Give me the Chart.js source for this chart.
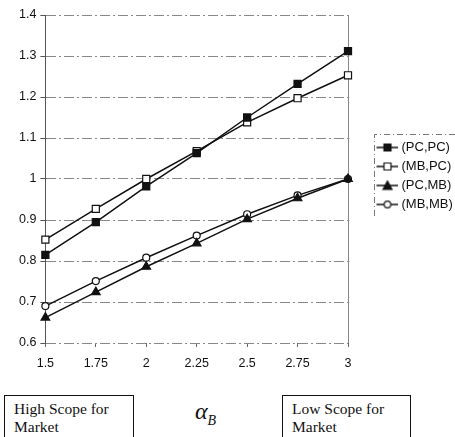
<!DOCTYPE html>
<html>
<head>
<meta charset="utf-8">
<script src="https://cdn.jsdelivr.net/npm/chart.js@4/dist/chart.umd.min.js"></script>
<style>
  html, body { margin: 0; padding: 0; background: #fff; overflow: hidden; }
  #wrap { position: relative; width: 455px; height: 437px; }
  #box { position: absolute; left: 0; top: 0; width: 455px; height: 388px; }
  .note { position: absolute; top: 395px; height: 60px; border: 1px solid #111;
          font-family: "Liberation Serif", "Times New Roman", serif; font-size: 15.5px;
          line-height: 18px; padding: 4px 0 0 9px; box-sizing: border-box; color: #111; }
  #alpha { position: absolute; left: 195px; top: 398px; font-family: "Liberation Serif", serif;
           font-style: italic; font-size: 24px; color: #111; }
  #alpha sub { font-size: 14px; }
</style>
</head>
<body>
<div id="wrap">
  <div id="box"><canvas id="chart"></canvas></div>
  <div class="note" style="left:4px; width:130px;">High Scope for<br>Market</div>
  <div id="alpha">α<sub>B</sub></div>
  <div class="note" style="left:282px; width:129px;">Low Scope for<br>Market</div>
</div>
<script>
const xLabels = ['1.5', '1.75', '2', '2.25', '2.5', '2.75', '3'];
const seriesNames = ['(PC,PC)', '(MB,PC)', '(PC,MB)', '(MB,MB)'];
const pcpc = [0.815, 0.895, 0.982, 1.063, 1.15, 1.232, 1.312];
const mbpc = [0.852, 0.927, 1.0, 1.068, 1.138, 1.197, 1.253];
const pcmb = [0.662, 0.724, 0.786, 0.843, 0.902, 0.953, 1.0];
const mbmb = [0.69, 0.751, 0.808, 0.862, 0.914, 0.96, 1.0];

// marker look per series: [pointStyle, filled, radius]
const markers = [['rect', true, 5], ['rect', false, 5], ['triangle', true, 5], ['circle', false, 3.5]];

// line+marker picture for the legend (transparent margin on the left)
const BOX_W = 41;
const ICON_W = 46;
function legendIcon(m) {
    const c = document.createElement('canvas');
    c.width = ICON_W; c.height = 12;
    const g = c.getContext('2d');
    const x0 = 25, x1 = ICON_W, cx = 36;
    g.strokeStyle = '#111'; g.lineWidth = 1.5;
    g.beginPath(); g.moveTo(x0, 6); g.lineTo(x1, 6); g.stroke();
    g.fillStyle = m[1] ? '#111' : '#fff';
    g.lineWidth = 1.2;
    g.beginPath();
    if (m[0] === 'rect') {
        g.rect(cx - 3.5, 6 - 3.5, 7, 7);
    } else if (m[0] === 'triangle') {
        g.moveTo(cx, 1.5); g.lineTo(cx + 4.5, 10); g.lineTo(cx - 4.5, 10); g.closePath();
    } else {
        g.arc(cx, 6, 3.3, 0, Math.PI * 2);
    }
    g.fill(); g.stroke();
    return c;
}

// dashed frame around the legend entries
const legendBorder = {
    id: 'legendBorder',
    afterDraw(chart) {
        const boxes = chart.legend.legendHitBoxes;
        if (!boxes || !boxes.length) return;
        const left = boxes[0].left + 20;
        const top = boxes[0].top - 7;
        const bottom = boxes[boxes.length - 1].top + boxes[boxes.length - 1].height + 8;
        const ctx = chart.ctx;
        ctx.save();
        ctx.strokeStyle = '#777';
        ctx.lineWidth = 1;
        ctx.setLineDash([6, 3, 1, 3]);
        ctx.beginPath();
        ctx.moveTo(chart.width, top + 0.5);
        ctx.lineTo(left + 0.5, top + 0.5);
        ctx.lineTo(left + 0.5, bottom);
        ctx.stroke();
        ctx.restore();
    }
};

const allData = [pcpc, mbpc, pcmb, mbmb];
const datasets = allData.map((d, i) => ({
    label: seriesNames[i],
    data: d,
    borderColor: '#111',
    borderWidth: 1.5,
    pointStyle: markers[i][0],
    pointRadius: markers[i][2],
    pointBackgroundColor: markers[i][1] ? '#111' : '#fff',
    pointBorderColor: '#111',
    pointBorderWidth: 1.2,
    tension: 0
}));

const ctx = document.getElementById('chart').getContext('2d');
new Chart(ctx, {
    type: 'line',
    data: { labels: xLabels, datasets: datasets },
    options: {
        responsive: true,
        maintainAspectRatio: false,
        animation: false,
        layout: { padding: { left: 15, right: -4, top: 15, bottom: 8 } },
        plugins: {
            tooltip: { enabled: false },
            legend: {
                position: 'right',
                align: 'start',
                title: {
                    display: true,
                    text: ' ',
                    font: { size: 10 },
                    padding: { top: 108, bottom: 0 }
                },
                labels: {
                    usePointStyle: true,
                    pointStyleWidth: BOX_W,
                    padding: 6,
                    color: '#111',
                    font: { family: 'Liberation Sans, Arial, sans-serif', size: 13 },
                    generateLabels(chart) {
                        return chart.data.datasets.map((ds, i) => ({
                            text: ds.label,
                            pointStyle: legendIcon(markers[i]),
                            fillStyle: '#111',
                            strokeStyle: '#111',
                            lineWidth: 0,
                            fontColor: '#111',
                            datasetIndex: i
                        }));
                    }
                }
            }
        },
        scales: {
            x: {
                offset: false,
                border: { display: false },
                grid: {
                    color: (c) => c.index === xLabels.length - 1 ? '#888' : 'rgba(0,0,0,0)',
                    tickColor: '#666',
                    tickLength: 4
                },
                ticks: {
                    color: '#111',
                    maxRotation: 0,
                    padding: 9,
                    font: { family: 'Liberation Sans, Arial, sans-serif', size: 12.5 }
                }
            },
            y: {
                min: 0.6,
                max: 1.4,
                border: { display: true, color: '#555', width: 1, dash: [10, 3, 2, 3] },
                grid: { color: '#888', tickColor: '#555', tickLength: 5 },
                ticks: {
                    stepSize: 0.1,
                    color: '#111',
                    padding: 4,
                    font: { family: 'Liberation Sans, Arial, sans-serif', size: 12.5 },
                    callback: (v) => String(Number(v.toFixed(1)))
                }
            }
        }
    },
    plugins: [legendBorder]
});
</script>
</body>
</html>
